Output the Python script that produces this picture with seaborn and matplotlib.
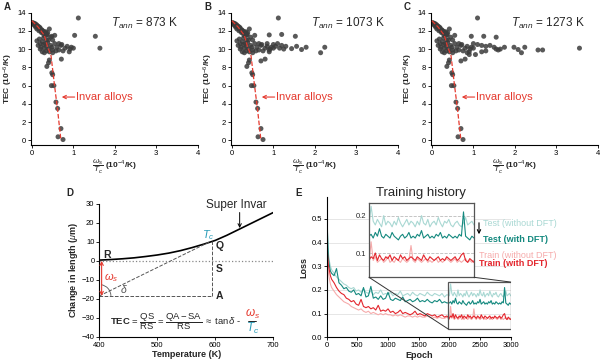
import numpy as np
import pandas as pd
import matplotlib
matplotlib.use("Agg")
import matplotlib.pyplot as plt
from matplotlib.patches import Rectangle, ConnectionPatch, Arc
import seaborn as sns

sns.set_theme(style="ticks")
plt.rcParams['font.family'] = ['Liberation Sans', 'DejaVu Sans']
plt.rcParams['mathtext.fontset'] = 'custom'
plt.rcParams['mathtext.rm'] = 'Liberation Sans'
plt.rcParams['mathtext.it'] = 'Liberation Sans:italic'
plt.rcParams['mathtext.bf'] = 'Liberation Sans:bold'

# ---------------- data: panels A-C (TEC vs omega_s/Tc) ----------------
band_x = [0.02, 0.04, 0.05, 0.07, 0.08, 0.10, 0.11, 0.12, 0.14, 0.15, 0.16, 0.18,
          0.19, 0.20, 0.21, 0.22, 0.24, 0.25, 0.26, 0.27, 0.28, 0.30, 0.31, 0.32,
          0.34, 0.35, 0.37, 0.12, 0.17, 0.23, 0.29, 0.33, 0.38, 0.42, 0.06, 0.09]
band_y = [12.9, 12.8, 12.7, 12.8, 12.6, 12.7, 12.5, 12.6, 12.4, 12.5, 12.3, 12.4,
          12.2, 12.3, 12.1, 12.0, 12.1, 11.9, 12.0, 11.8, 11.9, 11.7, 11.8, 11.6,
          11.7, 11.5, 11.6, 12.2, 12.0, 11.8, 11.5, 11.9, 11.8, 12.2, 12.6, 12.4]

mid_x = [0.15, 0.20, 0.22, 0.25, 0.28, 0.30, 0.32, 0.35, 0.38, 0.40, 0.42, 0.45,
         0.48, 0.50, 0.55, 0.58, 0.60, 0.65, 0.70, 0.75, 0.80, 0.85, 0.90, 0.92,
         0.95, 1.00, 0.25, 0.30, 0.35, 0.18, 0.12, 0.40, 0.45, 0.50, 0.55, 0.35,
         0.28, 0.20, 0.50, 0.65, 0.72]
mid_y = [10.4, 10.6, 10.2, 10.8, 10.5, 10.1, 10.6, 10.3, 10.7, 10.0, 9.7, 10.4,
         10.2, 9.9, 10.6, 9.8, 10.2, 9.9, 10.4, 9.8, 10.1, 10.3, 9.7, 10.0,
         10.2, 10.1, 9.7, 9.6, 9.8, 11.1, 10.9, 11.0, 11.3, 11.0, 11.5, 11.0,
         11.2, 10.0, 9.6, 10.6, 10.5]

invar_x = [0.40, 0.36, 0.42, 0.48, 0.50, 0.47, 0.53, 0.58, 0.62, 0.70, 0.63, 0.75]
invar_y = [8.5, 8.1, 8.8, 7.4, 7.2, 6.0, 6.0, 4.2, 3.5, 1.3, 0.4, 0.1]

extra_a_x = [1.12, 1.03, 1.53, 1.64, 0.71, 0.48]
extra_a_y = [13.4, 11.5, 11.4, 10.1, 8.9, 11.4]

extra_b_x = [1.12, 1.20, 1.53, 1.56, 1.79, 1.68, 1.44, 2.14, 2.24, 0.90, 0.70, 0.80,
             1.00, 1.05, 1.10, 1.15, 1.20, 1.25, 1.30, 0.85, 0.90]
extra_b_y = [13.4, 11.6, 11.4, 10.3, 10.2, 9.95, 10.05, 9.6, 10.2, 11.55, 8.7, 8.9,
             10.5, 10.3, 10.6, 10.1, 10.4, 10.0, 10.3, 10.6, 9.9]

extra_c_x = [1.10, 0.95, 1.25, 1.55, 1.00, 1.10, 1.20, 1.30, 1.40, 1.50, 1.55, 1.60,
             1.65, 1.75, 1.98, 2.08, 2.16, 2.24, 2.56, 2.67, 3.56, 1.20, 1.05, 0.90,
             0.70, 0.80, 1.30, 0.85]
extra_c_y = [13.4, 11.4, 11.4, 11.3, 10.6, 10.5, 10.4, 10.3, 10.4, 10.2, 10.0, 9.9,
             10.0, 10.2, 10.2, 9.95, 9.6, 10.2, 9.9, 9.9, 10.1, 9.7, 9.4, 9.4,
             8.7, 8.9, 9.8, 9.6]

invar_line_x = [0.00, 0.15, 0.30, 0.38, 0.46, 0.54, 0.62, 0.70]
invar_line_y = [13.1, 12.4, 11.5, 10.2, 9.3, 6.2, 3.3, 0.0]

t_ann = ['873', '1073', '1273']

# ---------------- data: panel D (dilatometry sketch) ----------------
temp_k = [400, 420, 440, 460, 480, 500, 520, 540, 560, 580, 600, 620, 640, 660, 680, 700]
length_um = [0.4, 0.7, 1.1, 1.6, 2.3, 3.1, 4.1, 5.4, 7.0, 8.8, 10.8, 13.5, 16.5, 19.5, 22.5, 25.5]

# ---------------- data: panel E (training history) ----------------
epoch_main = [0, 10, 20, 30, 45, 60] + list(range(80, 2000, 40))
test_wo_main = [0.57, 0.47, 0.40, 0.35, 0.32, 0.30,
                0.285, 0.27, 0.255, 0.245, 0.235, 0.225, 0.22, 0.21,
                0.205, 0.21, 0.195, 0.20, 0.19, 0.205, 0.19, 0.185,
                0.195, 0.18, 0.19, 0.185, 0.20, 0.18, 0.185, 0.18,
                0.19, 0.175, 0.185, 0.18, 0.195, 0.175, 0.18, 0.185,
                0.175, 0.19, 0.18, 0.175, 0.185, 0.18, 0.175, 0.19,
                0.18, 0.175, 0.185, 0.18, 0.175, 0.185, 0.17, 0.18]
test_w_main = [0.58, 0.46, 0.38, 0.33, 0.30, 0.28,
               0.27, 0.26, 0.29, 0.23, 0.22, 0.205, 0.21, 0.195,
               0.19, 0.20, 0.18, 0.185, 0.175, 0.21, 0.17, 0.175,
               0.215, 0.165, 0.17, 0.16, 0.175, 0.16, 0.165, 0.19,
               0.16, 0.155, 0.165, 0.16, 0.155, 0.17, 0.15, 0.155,
               0.16, 0.15, 0.155, 0.165, 0.15, 0.155, 0.15, 0.16,
               0.15, 0.145, 0.155, 0.15, 0.16, 0.145, 0.15, 0.145]
train_w_main = [0.40, 0.37, 0.33, 0.30, 0.28, 0.26,
                0.245, 0.23, 0.21, 0.195, 0.185, 0.18, 0.165, 0.16,
                0.15, 0.155, 0.14, 0.135, 0.16, 0.13, 0.125, 0.13,
                0.12, 0.125, 0.115, 0.135, 0.11, 0.115, 0.11, 0.12,
                0.105, 0.11, 0.10, 0.105, 0.115, 0.10, 0.105, 0.10,
                0.095, 0.10, 0.11, 0.095, 0.10, 0.095, 0.09, 0.10,
                0.095, 0.09, 0.095, 0.085, 0.09, 0.095, 0.085, 0.09]
train_wo_main = [0.38, 0.34, 0.30, 0.27, 0.245, 0.225,
                 0.21, 0.195, 0.18, 0.17, 0.16, 0.15, 0.145, 0.14,
                 0.13, 0.125, 0.12, 0.115, 0.12, 0.11, 0.105, 0.11,
                 0.10, 0.105, 0.10, 0.095, 0.10, 0.095, 0.10, 0.095,
                 0.095, 0.09, 0.095, 0.09, 0.095, 0.09, 0.085, 0.09,
                 0.09, 0.085, 0.09, 0.085, 0.09, 0.085, 0.085, 0.09,
                 0.085, 0.08, 0.085, 0.08, 0.085, 0.08, 0.08, 0.085]

epoch_zoom = list(range(2000, 3001, 20))
test_wo_zoom = [0.175,
                0.225, 0.185, 0.175, 0.19, 0.18, 0.17, 0.20, 0.175, 0.185, 0.18,
                0.17, 0.185, 0.175, 0.195, 0.18, 0.17, 0.18, 0.19, 0.175, 0.185,
                0.18, 0.17, 0.185, 0.175, 0.20, 0.18, 0.175, 0.19, 0.17, 0.18,
                0.185, 0.175, 0.195, 0.18, 0.17, 0.185, 0.18, 0.19, 0.175, 0.17,
                0.18, 0.185, 0.175, 0.17, 0.18, 0.195, 0.175, 0.18, 0.185, 0.175]
test_w_zoom = [0.145,
               0.15, 0.14, 0.155, 0.145, 0.165, 0.145, 0.14, 0.15, 0.145, 0.14,
               0.155, 0.145, 0.14, 0.135, 0.145, 0.15, 0.14, 0.145, 0.155, 0.14,
               0.145, 0.14, 0.15, 0.145, 0.16, 0.14, 0.145, 0.15, 0.14, 0.145,
               0.14, 0.15, 0.145, 0.155, 0.14, 0.145, 0.14, 0.15, 0.145, 0.14,
               0.145, 0.14, 0.15, 0.145, 0.21, 0.145, 0.14, 0.135, 0.145, 0.14]
train_w_zoom = [0.08,
                0.09, 0.085, 0.10, 0.08, 0.095, 0.085, 0.08, 0.09, 0.085, 0.095,
                0.08, 0.09, 0.085, 0.08, 0.095, 0.085, 0.09, 0.08, 0.085, 0.09,
                0.085, 0.08, 0.09, 0.085, 0.08, 0.095, 0.085, 0.08, 0.09, 0.085,
                0.08, 0.085, 0.09, 0.08, 0.085, 0.08, 0.09, 0.085, 0.08, 0.085,
                0.09, 0.08, 0.085, 0.095, 0.10, 0.08, 0.075, 0.085, 0.08, 0.075]
train_wo_zoom = [0.075,
                 0.13, 0.08, 0.09, 0.075, 0.08, 0.085, 0.075, 0.08, 0.09, 0.075,
                 0.08, 0.075, 0.085, 0.08, 0.075, 0.085, 0.08, 0.075, 0.08, 0.12,
                 0.08, 0.075, 0.085, 0.08, 0.075, 0.08, 0.085, 0.075, 0.08, 0.075,
                 0.08, 0.085, 0.075, 0.08, 0.075, 0.08, 0.085, 0.08, 0.075, 0.08,
                 0.085, 0.075, 0.08, 0.075, 0.08, 0.085, 0.075, 0.08, 0.075, 0.08]

series_names = ['Test (without DFT)', 'Test (with DFT)', 'Train (without DFT)', 'Train (with DFT)']
series_colors = ['#a9d8d3', '#14897f', '#f6abab', '#e3262d']

RED = '#e5392e'
TEAL = '#2a9cb8'
DOT = '#3c3c3c'


def style_axes(ax):
    sns.despine(ax=ax)
    for s in ['left', 'bottom']:
        ax.spines[s].set_linewidth(0.8)
        ax.spines[s].set_color('black')
    ax.tick_params(direction='out', length=2, width=0.6, labelsize=5.5, pad=1.5, colors='black')


fig = plt.figure(figsize=(6, 3.64), dpi=100)

# ---------------- panels A-C ----------------
extras = [(extra_a_x, extra_a_y), (extra_b_x, extra_b_y), (extra_c_x, extra_c_y)]
for i, (ex, ey) in enumerate(extras):
    ax = fig.add_axes([(30.7 + 200 * i) / 600, 0.6016, 167 / 600, 0.364])
    df = pd.DataFrame({'x': band_x + mid_x + invar_x + ex,
                       'y': band_y + mid_y + invar_y + ey})
    sns.scatterplot(data=df, x='x', y='y', ax=ax, color=DOT, s=13, alpha=0.85,
                    edgecolor='none', zorder=2)
    sns.lineplot(x=invar_line_x, y=invar_line_y, ax=ax, color=RED, lw=0.9,
                 linestyle='--', sort=False, estimator=None, zorder=3)
    ax.set_xlim(-0.03, 4)
    ax.set_ylim(-0.5, 14)
    ax.set_xticks([0, 1, 2, 3, 4])
    ax.set_yticks(range(0, 15, 2))
    style_axes(ax)
    ax.set_xlabel(r'$\dfrac{\omega_s}{T_c}$ (10$^{-4}$/K)', fontsize=6, weight='bold', labelpad=1)
    ax.set_ylabel(r'TEC (10$^{-6}$/K)', fontsize=6, weight='bold', labelpad=2)
    ax.text(1.9, 12.8, r'$T_{ann}$ = %s K' % t_ann[i], fontsize=8.5, va='center')
    ax.text(1.06, 4.75, 'Invar alloys', color=RED, fontsize=8, va='center')
    ax.annotate('', xy=(0.72, 4.75), xytext=(1.03, 4.75),
                arrowprops=dict(arrowstyle='->', color=RED, lw=0.8, shrinkA=0, shrinkB=0,
                                mutation_scale=6))
    fig.text((4 + 200 * i) / 600, 1 - 2 / 364, 'ABC'[i], fontsize=7, weight='bold', va='top')

# ---------------- panel D ----------------
axd = fig.add_axes([99.3 / 600, 0.075, 174 / 600, 0.3646])
sns.lineplot(x=temp_k, y=length_um, ax=axd, color='black', lw=1.2)
axd.plot([400, 700], [0, 0], ls=':', color='#888888', lw=0.9)
axd.plot([400, 590], [-18.5, 10], ls='--', color='#555555', lw=0.7)
axd.plot([400, 595], [-18.5, -18.5], ls='--', color='#555555', lw=0.7)
axd.plot([595, 595], [-18.5, 10.5], ls='--', color='#555555', lw=0.7)
axd.annotate('', xy=(404, -18.5), xytext=(404, 0),
             arrowprops=dict(arrowstyle='<->', color=RED, lw=0.8, shrinkA=0, shrinkB=0,
                             mutation_scale=6))
axd.add_patch(Arc((400, -18.5), 40, 12, theta1=0, theta2=62, color='#555555', lw=0.6))
axd.set_xlim(400, 700)
axd.set_ylim(-40, 30)
axd.set_xticks([400, 500, 600, 700])
axd.set_yticks(range(-40, 31, 10))
style_axes(axd)
axd.set_xlabel('Temperature (K)', fontsize=6.5, weight='bold', labelpad=1)
axd.set_ylabel(r'Change in length ($\mu$m)', fontsize=6.5, weight='bold', labelpad=1)
axd.text(406, 3, 'R', fontsize=7.5, weight='bold', va='center')
axd.text(600, 8, 'Q', fontsize=7.5, weight='bold', va='center')
axd.text(600, -4.5, 'S', fontsize=7.5, weight='bold', va='center')
axd.text(600, -18.5, 'A', fontsize=7.5, weight='bold', va='center')
axd.text(588, 13.5, r'$T_c$', fontsize=8, color=TEAL, weight='bold', ha='center', va='center')
axd.text(408, -9, r'$\omega_s$', fontsize=8, color=RED, va='center')
axd.text(436, -15, r'$\delta$', fontsize=7.5, color='#555555', va='center')
axd.text(637, 29.5, 'Super Invar', fontsize=8.5, ha='center', va='center')
axd.annotate('', xy=(642, 17.3), xytext=(642, 25.5),
             arrowprops=dict(arrowstyle='->', color='black', lw=0.7, shrinkA=0, shrinkB=0,
                             mutation_scale=6))
axd.text(418, -31.5, r'$\mathbf{TEC}$ = $\dfrac{\mathrm{QS}}{\mathrm{RS}}$ = '
         r'$\dfrac{\mathrm{QA}\,{-}\,\mathrm{SA}}{\mathrm{RS}}$ $\approx$ tan$\delta$ -',
         fontsize=6.8, va='center')
# coloured fraction omega_s / T_c
axd.text(664, -28.0, r'$\omega_s$', fontsize=8.5, color=RED, va='center', ha='center')
axd.plot([657, 671], [-31.5, -31.5], color='black', lw=0.6, clip_on=False)
axd.text(664, -35.5, r'$T_c$', fontsize=8.5, color=TEAL, weight='bold', va='center', ha='center')
fig.text(66 / 600, 1 - 188 / 364, 'D', fontsize=7, weight='bold', va='top')

# ---------------- panel E ----------------
axe = fig.add_axes([326.7 / 600, 0.0734, 184 / 600, 0.386])
main_vals = [test_wo_main, test_w_main, train_wo_main, train_w_main]
zoom_vals = [test_wo_zoom, test_w_zoom, train_wo_zoom, train_w_zoom]
for vals, zvals, col in zip(main_vals, zoom_vals, series_colors):
    sns.lineplot(x=epoch_main + epoch_zoom, y=vals + zvals, ax=axe, color=col, lw=0.8)
axe.set_xlim(0, 3000)
axe.set_ylim(0, 0.593)
axe.set_xticks(range(0, 3001, 500))
axe.set_yticks([0.0, 0.1, 0.2, 0.3, 0.4, 0.5])
axe.set_yticklabels(['0.0', '0.1', '0.2', '0.3', '0.4', '0.5'])
axe.yaxis.grid(True, color='#e6e6e6', lw=0.7)
axe.set_axisbelow(True)
style_axes(axe)
axe.set_xlabel('Epoch', fontsize=6.5, weight='bold', labelpad=1)
axe.set_ylabel('Loss', fontsize=6.5, weight='bold', labelpad=2)
axe.add_patch(Rectangle((1980, 0.035), 1020, 0.198, fill=False, ec='#555555', lw=0.9, zorder=5))

axin = fig.add_axes([369 / 600, 0.2382, 105 / 600, 0.2033])
for zvals, col in zip(zoom_vals, series_colors):
    sns.lineplot(x=epoch_zoom, y=zvals, ax=axin, color=col, lw=0.8)
axin.set_xlim(2000, 3000)
axin.set_ylim(0.035, 0.233)
axin.set_xticks([])
axin.set_yticks([0.1, 0.2])
axin.set_yticklabels(['0.1', '0.2'])
axin.tick_params(length=0, labelsize=5.5, pad=2)
axin.yaxis.grid(True, ls='--', color='#bbbbbb', lw=0.6)
axin.set_xlabel('')
axin.set_ylabel('')
axin.set_facecolor('white')
for s in axin.spines.values():
    s.set_color('#555555')
    s.set_linewidth(0.9)

fig.add_artist(ConnectionPatch(xyA=(0, 0), coordsA=axin.transAxes, xyB=(1980, 0.035),
                               coordsB=axe.transData, color='#333333', lw=0.7))
fig.add_artist(ConnectionPatch(xyA=(1, 0), coordsA=axin.transAxes, xyB=(3000, 0.233),
                               coordsB=axe.transData, color='#333333', lw=0.7))

fig.text(421 / 600, 1 - 193 / 364, 'Training history', fontsize=9.5, ha='center', va='center')
legend_pos = [(483, 223), (483, 239), (479, 255), (479, 264)]
for name, col, (px, py), wt in zip(series_names, series_colors, legend_pos,
                                   ['normal', 'bold', 'normal', 'bold']):
    fig.text(px / 600, 1 - py / 364, name, color=col, fontsize=6.5, weight=wt, va='center')
axe.annotate('', xy=(479, 364 - 237), xytext=(479, 364 - 220), xycoords='figure pixels',
             textcoords='figure pixels',
             arrowprops=dict(arrowstyle='->', lw=0.8, color='black', mutation_scale=6))
fig.text(295 / 600, 1 - 188 / 364, 'E', fontsize=7, weight='bold', va='top')

fig.savefig('out.png', dpi=100)
